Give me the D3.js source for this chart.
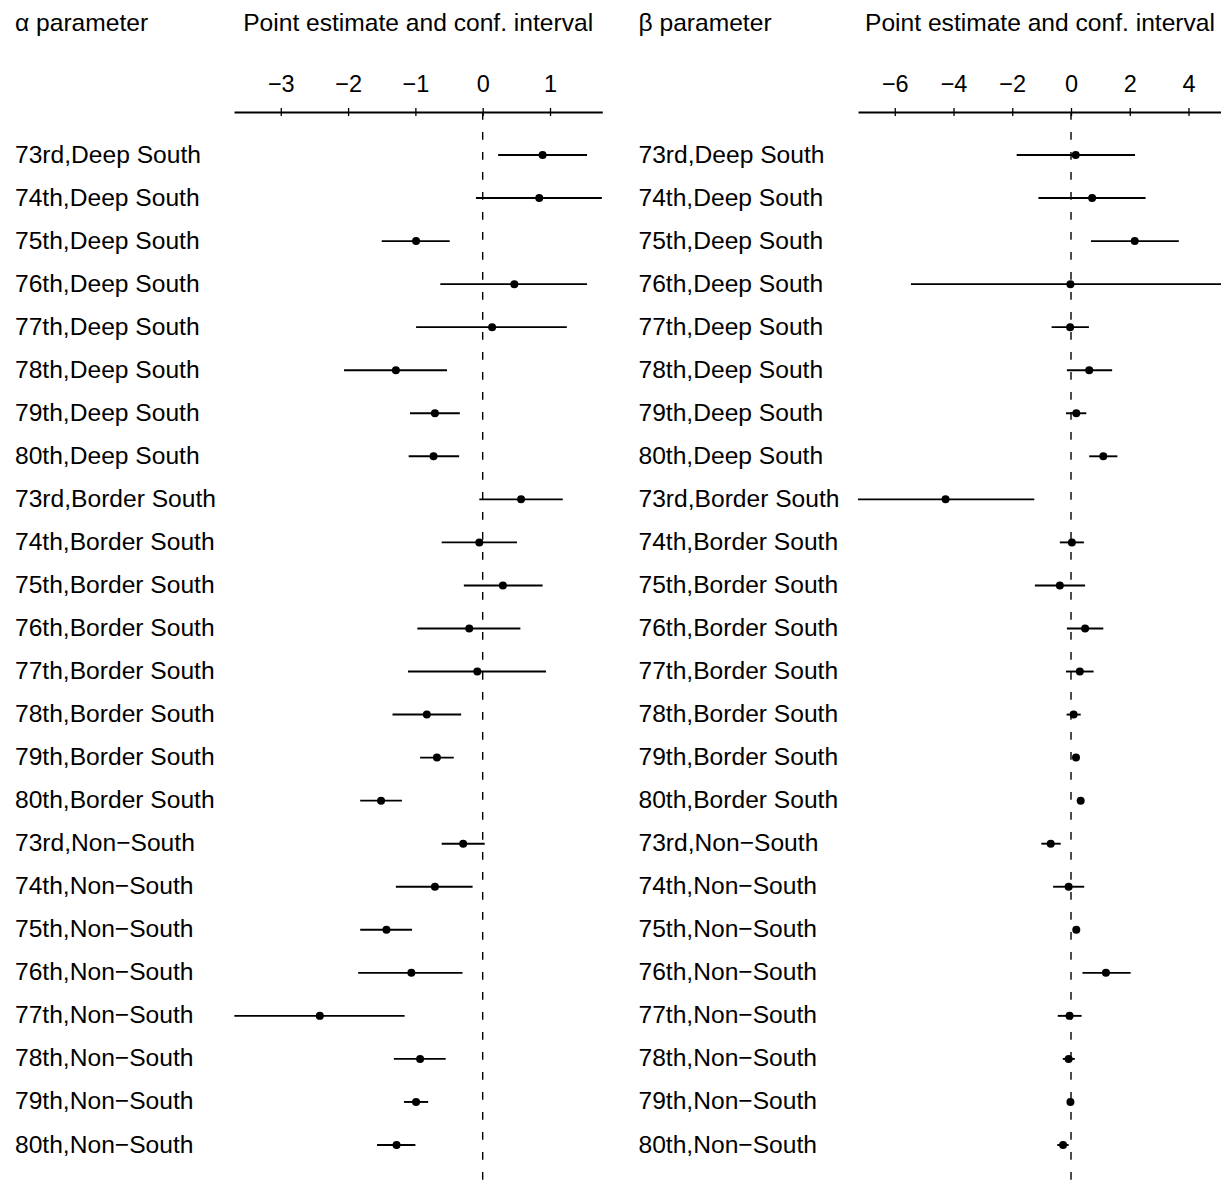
<!DOCTYPE html>
<html>
<head>
<meta charset="utf-8">
<script src="https://cdn.jsdelivr.net/npm/d3@7"></script>
<style>
  body { margin: 0; background: #fff; }
  svg text { font-family: "Liberation Sans", Arial, Helvetica, sans-serif; fill: #000; }
</style>
</head>
<body>
<svg id="chart" width="1221" height="1186"></svg>
<script>
// row labels, top to bottom
var rowLabels = [
  "73rd,Deep South", "74th,Deep South", "75th,Deep South", "76th,Deep South",
  "77th,Deep South", "78th,Deep South", "79th,Deep South", "80th,Deep South",
  "73rd,Border South", "74th,Border South", "75th,Border South", "76th,Border South",
  "77th,Border South", "78th,Border South", "79th,Border South", "80th,Border South",
  "73rd,Non\u2212South", "74th,Non\u2212South", "75th,Non\u2212South", "76th,Non\u2212South",
  "77th,Non\u2212South", "78th,Non\u2212South", "79th,Non\u2212South", "80th,Non\u2212South"
];

// alpha parameter: estimate, lower, upper
var alphaEst = [0.89, 0.84, -0.99, 0.47, 0.14, -1.29, -0.71, -0.73,
                0.57, -0.05, 0.30, -0.20, -0.08, -0.83, -0.68, -1.51,
                -0.29, -0.71, -1.43, -1.06, -2.42, -0.93, -0.99, -1.28];
var alphaLo  = [0.23, -0.10, -1.50, -0.63, -0.99, -2.06, -1.08, -1.10,
                -0.05, -0.61, -0.28, -0.97, -1.11, -1.34, -0.93, -1.82,
                -0.61, -1.29, -1.82, -1.85, -3.69, -1.32, -1.17, -1.57];
var alphaHi  = [1.55, 1.77, -0.49, 1.55, 1.25, -0.53, -0.34, -0.35,
                1.19, 0.51, 0.89, 0.56, 0.94, -0.32, -0.43, -1.20,
                0.03, -0.15, -1.05, -0.30, -1.16, -0.55, -0.81, -1.00];

// beta parameter: estimate, lower, upper
var betaEst = [0.16, 0.72, 2.17, -0.02, -0.03, 0.62, 0.18, 1.10,
               -4.27, 0.03, -0.38, 0.48, 0.30, 0.09, 0.17, 0.33,
               -0.69, -0.08, 0.18, 1.19, -0.05, -0.08, -0.02, -0.27];
var betaLo  = [-1.85, -1.11, 0.68, -5.45, -0.66, -0.14, -0.17, 0.62,
               -7.30, -0.38, -1.23, -0.14, -0.17, -0.15, 0.13, 0.29,
               -1.01, -0.61, 0.14, 0.39, -0.45, -0.28, -0.07, -0.47];
var betaHi  = [2.18, 2.54, 3.67, 5.40, 0.61, 1.40, 0.52, 1.58,
               -1.25, 0.44, 0.48, 1.10, 0.77, 0.33, 0.21, 0.37,
               -0.35, 0.45, 0.22, 2.03, 0.36, 0.13, 0.03, -0.08];

var alphaTicks = [-3, -2, -1, 0, 1];
var betaTicks = [-6, -4, -2, 0, 2, 4];

var svg = d3.select("#chart");
var axisY = 112;
var fontSize = "24.6px";

var y = d3.scalePoint().domain(rowLabels).range([155, 1145]);

function panel(opts) {
  var x = d3.scaleLinear().domain(opts.domain).range(opts.range);
  var g = svg.append("g");

  g.append("clipPath").attr("id", opts.id + "-clip")
    .append("rect")
    .attr("x", opts.range[0]).attr("y", 0)
    .attr("width", opts.range[1] - opts.range[0]).attr("height", 1186);

  // panel title and axis caption
  g.append("text")
    .attr("x", opts.labelX).attr("y", 31)
    .style("font-size", fontSize)
    .text(opts.title);
  g.append("text")
    .attr("x", (opts.range[0] + opts.range[1]) / 2).attr("y", 31)
    .attr("text-anchor", "middle")
    .style("font-size", fontSize)
    .text("Point estimate and conf. interval");

  // axis on top
  var ax = g.append("g")
    .attr("transform", "translate(0," + axisY + ")")
    .call(d3.axisTop(x).tickValues(opts.ticks).tickFormat(d3.format("d"))
      .tickSizeInner(4).tickSizeOuter(0).tickPadding(16));
  ax.selectAll("path.domain").attr("stroke", "#000").attr("stroke-width", 1.9);
  ax.selectAll(".tick line").attr("y1", 4).attr("y2", -4).attr("stroke-width", 1.3);
  ax.selectAll(".tick text")
    .style("font-size", "23.5px")
    .attr("font-family", null);

  // zero reference
  g.append("line")
    .attr("x1", x(0)).attr("x2", x(0))
    .attr("y1", axisY).attr("y2", 1186)
    .attr("stroke", "#000").attr("stroke-width", 1.4)
    .attr("stroke-dasharray", "7.7,12.3");

  // row labels
  g.selectAll("text.row")
    .data(rowLabels)
    .enter().append("text")
    .attr("class", "row")
    .attr("x", opts.labelX)
    .attr("y", function(d) { return y(d) + 7.5; })
    .style("font-size", fontSize)
    .text(function(d) { return d; });

  var marks = g.append("g").attr("clip-path", "url(#" + opts.id + "-clip)");

  marks.selectAll("line.ci")
    .data(rowLabels)
    .enter().append("line")
    .attr("class", "ci")
    .attr("x1", function(d, i) { return x(opts.lo[i]); })
    .attr("x2", function(d, i) { return x(opts.hi[i]); })
    .attr("y1", function(d) { return y(d); })
    .attr("y2", function(d) { return y(d); })
    .attr("stroke", "#000").attr("stroke-width", 1.9);

  marks.selectAll("circle.est")
    .data(rowLabels)
    .enter().append("circle")
    .attr("class", "est")
    .attr("cx", function(d, i) { return x(opts.est[i]); })
    .attr("cy", function(d) { return y(d); })
    .attr("r", 4)
    .attr("fill", "#000");
}

panel({
  id: "alpha",
  title: "\u03b1 parameter",
  labelX: 15,
  domain: [-3.695, 1.777],
  range: [234, 602.3],
  ticks: alphaTicks,
  est: alphaEst, lo: alphaLo, hi: alphaHi
});

panel({
  id: "beta",
  title: "\u03b2 parameter",
  labelX: 638.5,
  domain: [-7.252, 5.141],
  range: [858, 1222],
  ticks: betaTicks,
  est: betaEst, lo: betaLo, hi: betaHi
});
</script>
</body>
</html>
